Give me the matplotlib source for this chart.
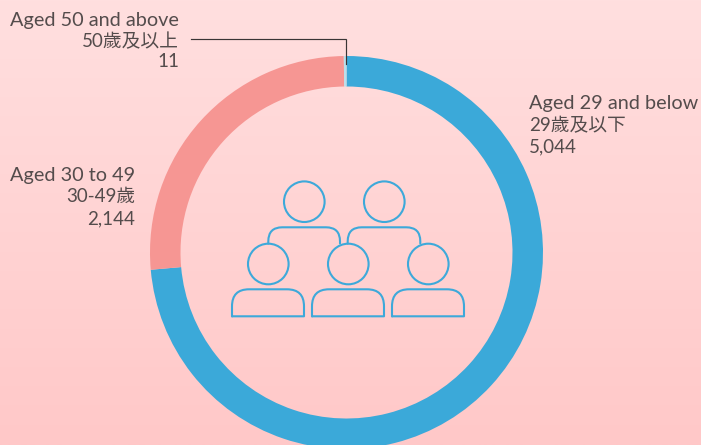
import numpy as np
import matplotlib
matplotlib.use("Agg")
import matplotlib.pyplot as plt
from matplotlib.path import Path
from matplotlib.patches import PathPatch, Circle

# Data
groups_en = ["Aged 29 and below", "Aged 30 to 49", "Aged 50 and above"]
groups_zh = ["29歲及以下", "30-49歲", "50歲及以上"]
counts = ["5,044", "2,144", "11"]
# arc share (the drawn arcs are not proportional to the printed counts)
arc_share = [73.6, 26.18, 0.22]
colors = ["#3BA9D9", "#F69693", "#B9E0EC"]

W, H = 701, 445
BLUE = "#3DA9DA"
TXT = "#544C4C"
plt.rcParams['font.family'] = ['Lato', 'Noto Sans CJK TC', 'DejaVu Sans']

fig = plt.figure(figsize=(W/100, H/100), dpi=100)
ax = fig.add_axes([0, 0, 1, 1])

# pie first (it resets limits)
ax.pie(arc_share, colors=colors, startangle=90, counterclock=False,
       center=(346.5, H-252.5), radius=196.5,
       wedgeprops=dict(width=30.5, linewidth=0), frame=True)

grad = np.linspace(0, 1, 256)[:, None]
c0 = np.array([255, 223, 223])/255
c1 = np.array([255, 200, 200])/255
img = c0[None, None, :]*(1-grad[..., None]) + c1[None, None, :]*grad[..., None]
ax.imshow(img, extent=[0, W, 0, H], aspect='auto', origin='upper', zorder=0)
ax.set_xlim(0, W); ax.set_ylim(0, H)
ax.axis('off')

Y = lambda y: H - y

def add_path(verts, codes):
    ax.add_patch(PathPatch(Path([(x, Y(y)) for x, y in verts], codes), fc='none',
                           ec=BLUE, lw=1.5, zorder=3, joinstyle='round', capstyle='round'))

# icon
for cx, cy in [(304.3, 201.7), (384.3, 201.7), (268.3, 264), (348.3, 264), (428.3, 264)]:
    ax.add_patch(Circle((cx, Y(cy)), 20.3, fc='none', ec=BLUE, lw=1.5, zorder=3))
M, L, C = Path.MOVETO, Path.LINETO, Path.CURVE3
for x0 in (232, 312, 392):
    x1 = x0 + 72
    t, b, r = 289.3, 316.3, 17
    add_path([(x0, b), (x0, t+r), (x0, t), (x0+r, t), (x1-r, t), (x1, t), (x1, t+r), (x1, b), (x0, b)],
             [M, L, C, C, L, C, C, L, L])
for x0, x1 in ((268.3, 340), (347.7, 420.3)):
    t, b, r = 227.3, 243.5, 14
    add_path([(x0, b), (x0, t+r), (x0, t), (x0+r, t), (x1-r, t), (x1, t), (x1, t+r), (x1, b)],
             [M, L, C, C, L, C, C, L])

# leader
ax.plot([191, 345.5, 345.5], [Y(39), Y(39), Y(63.5)], color="#3A3535", lw=0.85, zorder=4,
        solid_joinstyle='miter')

# labels
FS_EN, FS = 14.3, 13.5
spec = [(529, 'left', [109, 131, 152]), (135, 'right', [181, 202, 224]), (179, 'right', [26, 47, 67])]
for i, (x, ha, ys) in enumerate(spec):
    for s, y, f in zip((groups_en[i], groups_zh[i], counts[i]), ys, (FS_EN, FS, FS)):
        ax.text(x, Y(y), s, ha=ha, va='baseline', fontsize=f, color=TXT, zorder=5)

fig.savefig("out.png", dpi=100)
